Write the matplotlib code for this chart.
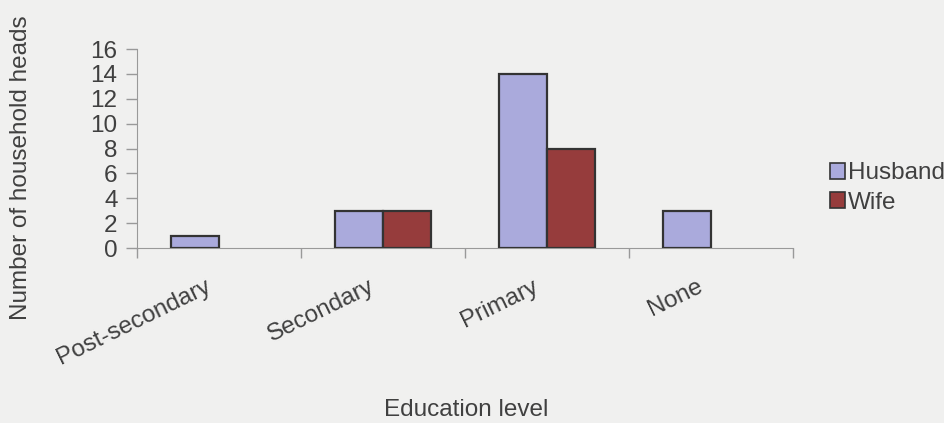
import matplotlib.pyplot as plt
import numpy as np
from matplotlib.patches import Patch

# Household heads by education level
levels = ['Post-secondary', 'Secondary', 'Primary', 'None']
husband = [1, 3, 14, 3]
wife = [0, 3, 8, 0]
yticks = [0, 2, 4, 6, 8, 10, 12, 14, 16]

plt.rcParams['font.family'] = ['Liberation Sans', 'DejaVu Sans']
txt = '#404040'
bg = '#f0f0ef'
c_h, c_w, edge = '#aaaadc', '#963c3c', '#333333'

fig = plt.figure(figsize=(9.45, 4.23), dpi=100, facecolor=bg)
ax = fig.add_axes([0.145, 0.4137, 0.694, 0.4704])
ax.set_facecolor(bg)

x = np.arange(len(levels))
width = 0.293
# empty categories get no outline
lw_h = [1.6 if v else 0 for v in husband]
lw_w = [1.6 if v else 0 for v in wife]
ax.bar(x - width / 2, husband, width, color=c_h, edgecolor=edge,
       linewidth=lw_h, zorder=3)
ax.bar(x + width / 2, wife, width, color=c_w, edgecolor=edge,
       linewidth=lw_w, zorder=3)

ax.set_xlim(-0.5, len(levels) - 0.5)
ax.set_ylim(0, 16)
ax.set_yticks(yticks)
ax.tick_params(axis='y', labelsize=17.5, colors=txt, length=8, width=1,
               color='#999999', pad=6)

# Category boundaries carry the tick marks, labels sit at the centres
ax.set_xticks(np.arange(-0.5, len(levels)), minor=False)
ax.set_xticklabels([''] * (len(levels) + 1))
ax.tick_params(axis='x', length=7, width=1, color='#999999')
ax.set_xticks(x - 0.06, minor=True)
ax.set_xticklabels(levels, minor=True, rotation=26, ha='right', va='center',
                   rotation_mode='anchor', fontsize=17.5, color=txt)
ax.tick_params(axis='x', which='minor', length=0, pad=27)

for side in ['top', 'right']:
    ax.spines[side].set_visible(False)
ax.spines['left'].set_color('#999999')
ax.spines['bottom'].set_color('#999999')

fig.text(21 / 945, 1 - 168 / 423, 'Number of household heads', rotation=90,
         ha='center', va='center', fontsize=17.5, color=txt)
fig.text(466 / 945, 1 - 410 / 423, 'Education level', ha='center',
         va='center', fontsize=17.5, color=txt)

handles = [Patch(facecolor=c_h, edgecolor=edge, linewidth=1.2, label='Husband'),
           Patch(facecolor=c_w, edgecolor=edge, linewidth=1.2, label='Wife')]
fig.legend(handles=handles, loc='center left',
           bbox_to_anchor=(830 / 945, 1 - 188 / 423),
           frameon=False, fontsize=17.5, labelcolor=txt, handlelength=0.6,
           handleheight=0.6, handletextpad=0.15, labelspacing=0.3,
           borderpad=0, borderaxespad=0)

fig.savefig('out.png', dpi=100, facecolor=bg)
